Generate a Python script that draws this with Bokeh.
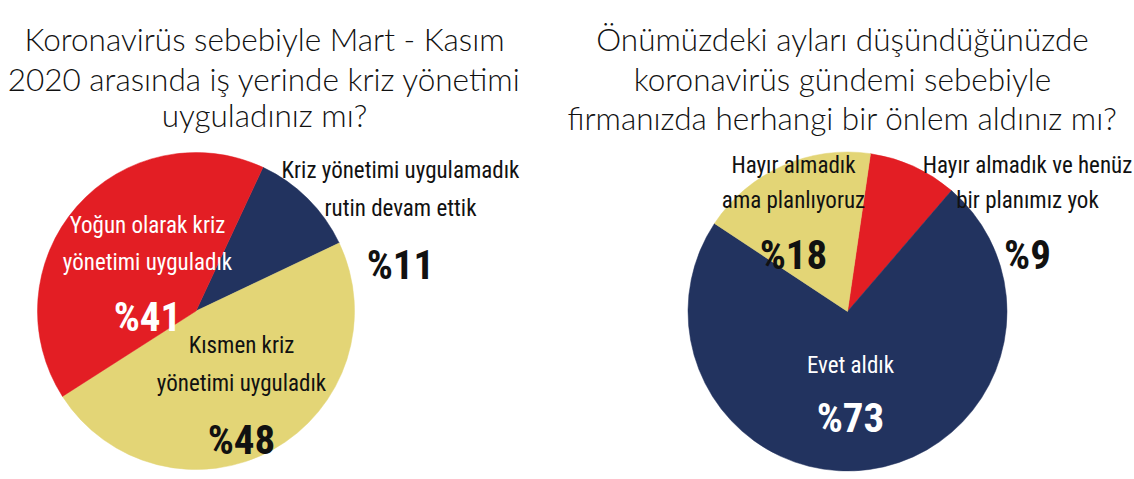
import math
from bokeh.plotting import figure
from bokeh.models import Range1d
from bokeh.core.properties import value
from bokeh.embed import file_html
from bokeh.resources import INLINE

# ---------------- data ----------------
left_title = ["Koronavirüs sebebiyle Mart - Kasım",
              "2020 arasında iş yerinde kriz yönetimi",
              "uyguladınız mı?"]
left_categories = ["Kriz yönetimi uygulamadık\nrutin devam ettik",
                   "Kısmen kriz\nyönetimi uyguladık",
                   "Yoğun olarak kriz\nyönetimi uyguladık"]
left_values = [11, 48, 41]
left_colors = ["#22335F", "#E3D576", "#E31E24"]

right_title = ["Önümüzdeki ayları düşündüğünüzde",
               "koronavirüs gündemi sebebiyle",
               "firmanızda herhangi bir önlem aldınız mı?"]
right_categories = ["Hayır almadık ve henüz\nbir planımız yok",
                    "Evet aldık",
                    "Hayır almadık\nama planlıyoruz"]
right_values = [9, 73, 18]
right_colors = ["#E31E24", "#22335F", "#E3D576"]

# ---------------- layout ----------------
W, H = 1132, 477
TITLE_FONT = "Lato Light"
LABEL_FONT = "Roboto Condensed"
PCT_FONT = "Roboto Condensed"

def Y(ry):
    # convert page y (from top) to data y
    return H - ry

p = figure(width=W, height=H, x_range=Range1d(0, W), y_range=Range1d(0, H),
           output_backend="svg", toolbar_location=None, min_border=0)
p.axis.visible = False
p.grid.visible = False
p.outline_line_color = None
p.background_fill_color = "white"
p.border_fill_color = "white"


def draw_pie(cx, cy, r, start_deg, values, colors):
    total = float(sum(values))
    a = start_deg
    for v, c in zip(values, colors):
        e = a + 360.0 * v / total
        p.wedge(x=[cx], y=[Y(cy)], radius=r, radius_units="screen",
                start_angle=math.radians(90 - e), end_angle=math.radians(90 - a),
                direction="anticlock", fill_color=c, line_color=c, line_width=0.5)
        a = e


def draw_title(lines, cx, baselines, size):
    for t, b in zip(lines, baselines):
        p.text(x=[cx], y=[Y(b)], text=[t], text_align="center",
               text_baseline="alphabetic", text_font=value(TITLE_FONT),
               text_font_size=size, text_color="#111111")


def draw_label(cat, val, cx, baselines, pct_base, color, size, pct_size):
    for t, b in zip(cat.split("\n"), baselines):
        p.text(x=[cx], y=[Y(b)], text=[t], text_align="center",
               text_baseline="alphabetic", text_font=value(LABEL_FONT),
               text_font_size=size, text_color=color)
    p.text(x=[cx], y=[Y(pct_base)], text=["%" + str(val)], text_align="center",
           text_baseline="alphabetic", text_font=value(PCT_FONT),
           text_font_style="bold", text_font_size=pct_size, text_color=color)


# pies
draw_pie(195.5, 310.5, 158.5, 25.0, left_values, left_colors)
draw_pie(847, 311, 159.5, 8.3, right_values, right_colors)

# titles
draw_title(left_title, 264, [38, 78, 114], "31.5px")
draw_title(right_title, 842, [38, 78, 117], "31.5px")

# left labels
LS, PS = "23px", "41px"
draw_label(left_categories[0], left_values[0], 400, [170, 208], 264, "#111111", LS, PS)
draw_label(left_categories[1], left_values[1], 241, [345, 383], 439, "#111111", LS, PS)
draw_label(left_categories[2], left_values[2], 147, [225, 262], 316, "#FFFFFF", LS, PS)

# right labels
draw_label(right_categories[0], right_values[0], 1027, [165, 200], 254, "#111111", LS, PS)
draw_label(right_categories[1], right_values[1], 850, [365], 417, "#FFFFFF", LS, PS)
draw_label(right_categories[2], right_values[2], 793, [165, 200], 254, "#111111", LS, PS)

open("out.html", "w").write(file_html(p, INLINE))
